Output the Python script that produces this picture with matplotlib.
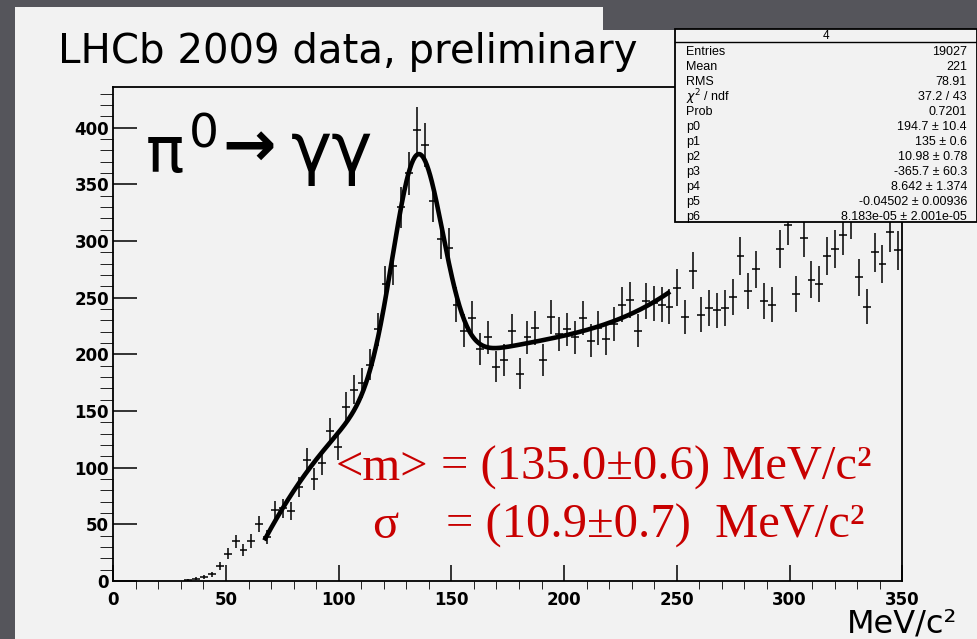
import numpy as np
import matplotlib
matplotlib.use("Agg")
import matplotlib.pyplot as plt
from matplotlib.patches import Rectangle
from matplotlib.lines import Line2D

W, H, DPI = 978, 639, 100

# histogram binning (100 bins over 0-350 MeV/c^2); counts start at bin index 9
x_min, x_max, n_bins = 0.0, 350.0, 100
first_bin = 9
counts = [
    1, 1.8, 3.2, 5.9, 13, 24, 35, 27.5, 35.5, 50,
    39, 63, 64, 62, 83, 107, 90, 104, 132, 118,
    154, 169, 175, 191, 222, 262, 278, 330, 360, 398,
    385, 335, 302, 294, 244, 221, 232, 205, 215, 189,
    195, 221, 183, 215, 223, 195, 233, 218, 222, 215,
    232, 212, 223, 214, 227, 244, 248, 221, 247, 245,
    244, 242, 259, 233, 274, 235, 241, 239, 241, 251,
    287, 256, 275, 247, 244, 293, 314, 253, 303, 266,
    262, 287, 293, 305, 320, 268, 242, 290, 280, 308,
    292,
]

# fit result: gaussian (p0, p1, p2) on a cubic background (p3..p6)
p0, p1, p2 = 194.7, 135.0, 10.98
p3, p4, p5, p6 = -365.7, 8.642, -0.04502, 8.183e-05
fit_range = (67.0, 247.0)

stat_title = "4"
stat_labels = ["Entries", "Mean", "RMS", r"$\chi^2$ / ndf", "Prob",
               "p0", "p1", "p2", "p3", "p4", "p5", "p6"]
stat_values = ["19027", "221", "78.91", "37.2 / 43", "0.7201",
               "194.7 ± 10.4", "135 ± 0.6", "10.98 ± 0.78",
               "-365.7 ± 60.3", "8.642 ± 1.374", "-0.04502 ± 0.00936",
               "8.183e-05 ± 2.001e-05"]

y_ticks = [0, 50, 100, 150, 200, 250, 300, 350, 400]
x_ticks = [0, 50, 100, 150, 200, 250, 300, 350]
y_top = 436

BG = "#55555b"
PANEL = "#f2f2f2"
RED = "#c80000"


def fx(px):
    return px / W


def fy(py):
    return 1 - py / H


fig = plt.figure(figsize=(W / DPI, H / DPI), dpi=DPI, facecolor=BG)

# light slide panel behind the histogram
fig.add_artist(Rectangle((fx(15), fy(639)), fx(978) - fx(15), fy(30) - fy(639),
                         transform=fig.transFigure, facecolor=PANEL,
                         edgecolor="none", zorder=0))
fig.add_artist(Rectangle((fx(15), fy(30)), fx(603) - fx(15), fy(7) - fy(30),
                         transform=fig.transFigure, facecolor=PANEL,
                         edgecolor="none", zorder=0))

ax_l, ax_r, ax_t, ax_b = 113.3, 902.2, 87.0, 581.0
ax = fig.add_axes([fx(ax_l), fy(ax_b), fx(ax_r) - fx(ax_l), fy(ax_t) - fy(ax_b)])
ax.set_facecolor(PANEL)

width = (x_max - x_min) / n_bins
centers = x_min + width * (np.arange(len(counts)) + first_bin + 0.5)
counts_arr = np.asarray(counts, dtype=float)

ax.errorbar(centers, counts_arr, xerr=width / 2, yerr=np.sqrt(counts_arr),
            fmt="none", ecolor="black", elinewidth=1.1, capsize=0, zorder=3)

xf = np.linspace(fit_range[0], fit_range[1], 500)
yf = (p0 * np.exp(-0.5 * ((xf - p1) / p2) ** 2)
      + p3 + p4 * xf + p5 * xf ** 2 + p6 * xf ** 3)
ax.plot(xf, yf, color="black", lw=3.3, solid_capstyle="butt", zorder=4)

ax.set_xlim(x_min, x_max)
ax.set_ylim(0, y_top)
ax.set_xticks(x_ticks)
ax.set_yticks(y_ticks)
ax.set_xticks(np.arange(0, 351, 10), minor=True)
ax.set_yticks(np.arange(0, y_top, 10), minor=True)
ax.tick_params(axis="both", direction="in", colors="black", width=1.1,
               labelsize=12, top=False, right=False)
ax.tick_params(axis="y", which="major", length=17, pad=3)
ax.tick_params(axis="y", which="minor", length=9.5)
ax.tick_params(axis="x", which="major", length=11.5, pad=7)
ax.tick_params(axis="x", which="minor", length=6)
for lab in ax.get_xticklabels() + ax.get_yticklabels():
    lab.set_fontweight("bold")
    lab.set_family("DejaVu Sans")
for s in ax.spines.values():
    s.set_linewidth(1.3)
    s.set_color("black")

# slide texts
fig.text(fx(58), fy(63), "LHCb 2009 data, preliminary", fontsize=29,
         family="DejaVu Sans", va="baseline", ha="left", color="black")
fig.text(fx(146), fy(172), "π", fontsize=46, family="DejaVu Sans",
         va="baseline", ha="left")
fig.text(fx(189), fy(147), "0", fontsize=34, family="DejaVu Sans",
         va="baseline", ha="left")
fig.text(fx(222), fy(166), "→", fontsize=46, family="DejaVu Sans",
         fontweight="bold", va="baseline", ha="left")
fig.text(fx(291), fy(172), "γγ", fontsize=50, family="DejaVu Sans",
         va="baseline", ha="left")
fig.text(fx(847), fy(632), "MeV/c²", fontsize=23, family="DejaVu Sans",
         va="baseline", ha="left")

serif = "Liberation Serif"
fig.text(fx(336), fy(480), "<m>", fontsize=35, family=serif, color=RED,
         va="baseline", ha="left")
fig.text(fx(441), fy(480), "= (135.0±0.6) MeV/c²", fontsize=35, family=serif,
         color=RED, va="baseline", ha="left")
fig.text(fx(372), fy(538), "σ", fontsize=35, family=serif, color=RED,
         va="baseline", ha="left")
fig.text(fx(446), fy(538), "= (10.9±0.7)  MeV/c²", fontsize=35, family=serif,
         color=RED, va="baseline", ha="left")

# statistics box
bx0, bx1, by0, by1 = 675, 977, 29, 222
fig.add_artist(Rectangle((fx(bx0), fy(by1)), fx(bx1) - fx(bx0), fy(by0) - fy(by1),
                         transform=fig.transFigure, facecolor=PANEL,
                         edgecolor="black", lw=1.3, zorder=5))
fig.add_artist(Line2D([fx(bx0), fx(bx1)], [fy(42), fy(42)],
                      transform=fig.transFigure, color="black", lw=1.0, zorder=6))
fig.text(fx((bx0 + bx1) / 2), fy(36), stat_title, fontsize=8.5,
         family="Liberation Sans", ha="center", va="center", zorder=7)
for i, (lab, val) in enumerate(zip(stat_labels, stat_values)):
    yy = fy(52 + 15 * i)
    fig.text(fx(686), yy, lab, fontsize=9, family="Liberation Sans",
             ha="left", va="center", zorder=7)
    fig.text(fx(967), yy, val, fontsize=9, family="Liberation Sans",
             ha="right", va="center", zorder=7)

fig.savefig("out.png", dpi=DPI, facecolor=BG)
